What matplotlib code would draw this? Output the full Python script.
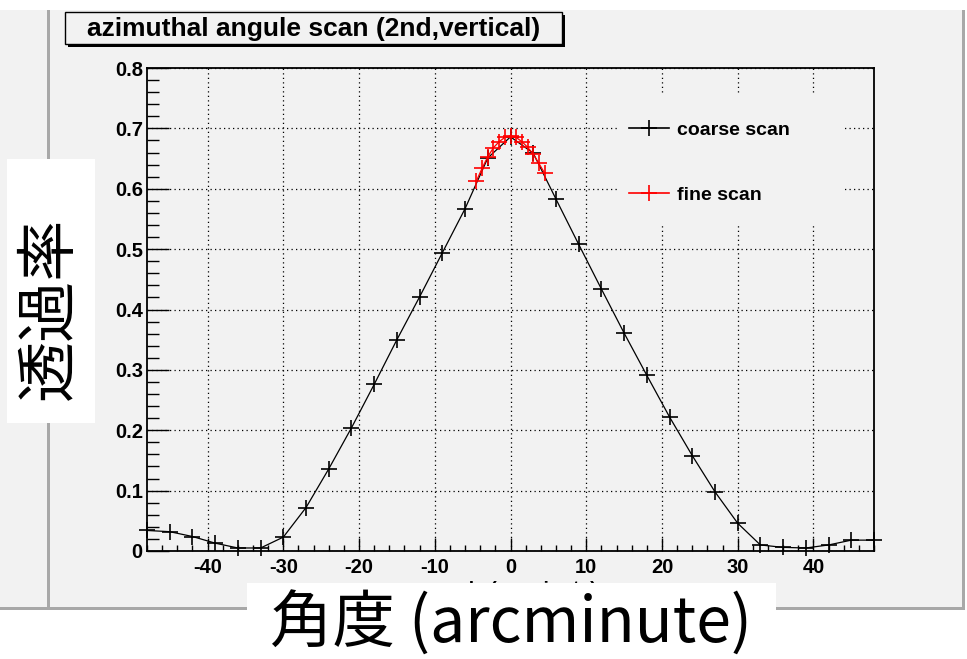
import matplotlib
matplotlib.use("Agg")
import matplotlib.pyplot as plt
from matplotlib.patches import Rectangle
from matplotlib.ticker import MultipleLocator, FuncFormatter
from matplotlib.lines import Line2D

# coarse scan: step 3 arcmin
coarse_x = [-48, -45, -42, -39, -36, -33, -30, -27, -24, -21, -18, -15, -12, -9, -6, -3,
            0, 3, 6, 9, 12, 15, 18, 21, 24, 27, 30, 33, 36, 39, 42, 45, 48]
coarse_y = [0.034, 0.032, 0.024, 0.013, 0.005, 0.005, 0.023, 0.072, 0.136, 0.204, 0.276,
            0.350, 0.421, 0.494, 0.567, 0.651, 0.686, 0.659, 0.583, 0.508, 0.434, 0.361,
            0.291, 0.222, 0.158, 0.098, 0.046, 0.010, 0.006, 0.005, 0.010, 0.018, 0.018]

# fine scan around the peak
fine_x = [-4.5, -3.75, -3.0, -2.25, -1.5, -0.75, 0.0, 0.75, 1.5, 2.25, 3.0, 3.75, 4.5]
fine_y = [0.613, 0.634, 0.653, 0.668, 0.678, 0.685, 0.688, 0.685, 0.678, 0.669,
          0.657, 0.642, 0.626]

title = "azimuthal angule scan (2nd,vertical)"
xtitle_root = "angle (arcminute)"
ylabel_jp = "透過率"
xlabel_jp = "角度 (arcminute)"
legend_labels = ["coarse scan", "fine scan"]

W, H = 967, 659
PANEL = "#f2f2f2"
BEVEL = "#a8a8a8"
BOLD = dict(family="Liberation Sans", weight="bold")
CJK = ["Noto Sans CJK JP", "DejaVu Sans"]

fig = plt.figure(figsize=(W / 100, H / 100), dpi=100)
fig.patch.set_facecolor("white")


def fig_rect(x0, y0, x1, y1, **kw):
    """rectangle given in pixel coords measured from the top-left corner"""
    r = Rectangle((x0 / W, 1 - y1 / H), (x1 - x0) / W, (y1 - y0) / H,
                  transform=fig.transFigure, **kw)
    fig.patches.append(r)
    return r


# canvas panels with ROOT-like bevel on the right/bottom
fig_rect(0, 10, 962, 607, facecolor=PANEL, edgecolor="none", zorder=-3)
fig_rect(46.5, 10, 50, 610, facecolor=BEVEL, edgecolor="none", zorder=-2)
fig_rect(0, 607, 50, 610, facecolor=BEVEL, edgecolor="none", zorder=-2)
fig_rect(50, 607, 965, 610, facecolor=BEVEL, edgecolor="none", zorder=-2)
fig_rect(962, 10, 965, 610, facecolor=BEVEL, edgecolor="none", zorder=-2)

# title pave with shadow
fig_rect(68, 15, 565, 47, facecolor="black", edgecolor="none", zorder=1)
fig_rect(65, 12, 562, 44, facecolor=PANEL, edgecolor="black", linewidth=1.0, zorder=1.1)
fig.text(314 / W, 1 - 29 / H, title, ha="center", va="center",
         fontsize=19, zorder=1.2, **BOLD)

ax = fig.add_axes([147 / W, 1 - 551 / H, (874 - 147) / W, (551 - 68) / H])
ax.set_facecolor(PANEL)
ax.set_xlim(-48, 48)
ax.set_ylim(0, 0.8)
ax.set_axisbelow(True)

ax.xaxis.set_major_locator(MultipleLocator(10))
ax.xaxis.set_minor_locator(MultipleLocator(2))
ax.yaxis.set_major_locator(MultipleLocator(0.1))
ax.yaxis.set_minor_locator(MultipleLocator(0.02))
ax.xaxis.set_major_formatter(FuncFormatter(lambda v, p: f"{v:.0f}"))
ax.yaxis.set_major_formatter(FuncFormatter(lambda v, p: "0" if abs(v) < 1e-9 else f"{v:.1f}"))

ax.tick_params(axis="x", which="major", direction="in", length=9.5, width=1.0, pad=5)
ax.tick_params(axis="x", which="minor", direction="in", length=4.5, width=1.0)
ax.tick_params(axis="y", which="major", direction="in", length=16, width=1.0, pad=3)
ax.tick_params(axis="y", which="minor", direction="in", length=8.5, width=1.0)
for lab in ax.get_xticklabels() + ax.get_yticklabels():
    lab.set_fontfamily("Liberation Sans")
    lab.set_fontweight("bold")
    lab.set_fontsize(14.5)

for s in ax.spines.values():
    s.set_linewidth(1.3)
    s.set_color("black")

ax.grid(True, which="major", color="black", linestyle=(0, (1, 2.6)), linewidth=0.9)

# legend area hides the grid behind it
ax.add_patch(Rectangle((0.65, 0.675), 0.31, 0.27, transform=ax.transAxes,
                       facecolor=PANEL, edgecolor="none", zorder=1))

ax.plot(coarse_x, coarse_y, color="black", linewidth=0.9, marker="+",
        markersize=11.5, markeredgewidth=1.2, zorder=3, clip_on=False)
ax.plot(fine_x, fine_y, color="red", linewidth=0.9, marker="+",
        markersize=11.5, markeredgewidth=1.2, zorder=4)

handles = [Line2D([], [], color="black", linewidth=1.2, marker="+", markersize=11, markeredgewidth=1.2),
           Line2D([], [], color="red", linewidth=1.2, marker="+", markersize=11, markeredgewidth=1.2)]
ax.legend(handles, legend_labels, loc="upper left",
          bbox_to_anchor=((629 - 147) / 727, (551 - 121) / 483),
          frameon=False, borderpad=0, borderaxespad=0, handlelength=2.05,
          handletextpad=0.4, labelspacing=2.45,
          prop=dict(family="Liberation Sans", weight="bold", size=14))

# ROOT axis title (mostly covered by the label box below)
fig.text(515 / W, 1 - 581.5 / H, xtitle_root, ha="center", va="top",
         fontsize=14, zorder=1, **BOLD)

# Japanese axis labels on white boxes
fig_rect(7, 159, 95, 423, facecolor="white", edgecolor="none", zorder=5)
fig.text(50 / W, 1 - 308 / H, ylabel_jp, rotation=90, ha="center", va="center",
         fontsize=44, family=CJK, zorder=6)
fig_rect(247, 583, 776, 659, facecolor="white", edgecolor="none", zorder=5)
fig.text(511 / W, 1 - 624 / H, xlabel_jp, ha="center", va="center",
         fontsize=45, family=CJK, zorder=6)

fig.savefig("out.png", dpi=100)
